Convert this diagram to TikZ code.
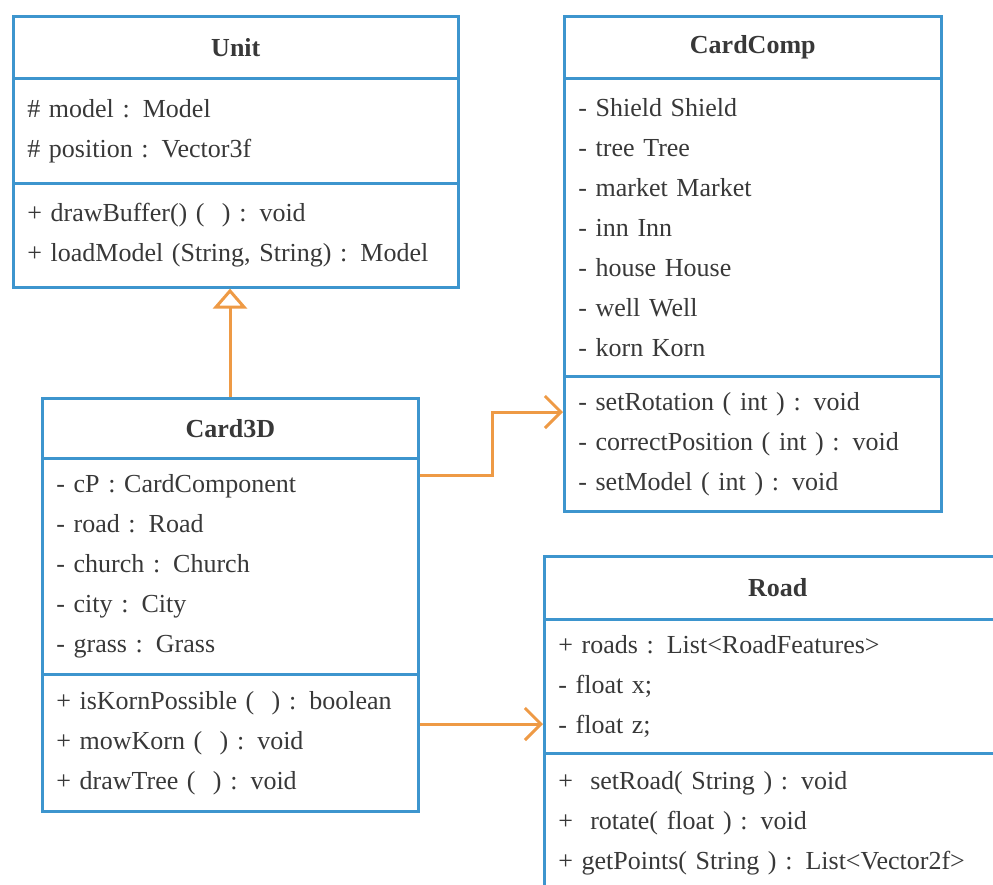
\documentclass[tikz,border=0pt]{standalone}
\usepackage{fontspec}
\setmainfont{Liberation Serif}
\usetikzlibrary{arrows.meta}

\definecolor{umlblue}{HTML}{3D95CE}
\definecolor{umlorange}{HTML}{EE9A45}
\definecolor{umltext}{HTML}{383838}

\tikzset{
  part/.style={draw=umlblue, line width=2.6pt, anchor=north west, inner xsep=14pt,
    inner ysep=0pt, align=left, text=umltext,
    font=\fontsize{26}{40}\selectfont},
  title/.style={part, align=center, font=\fontsize{26}{40}\selectfont\bfseries},
  inherit/.style={draw=umlorange, line width=3pt,
    -{Triangle[open, width=34pt, length=20pt, line width=3pt]}},
  assoc/.style={draw=umlorange, line width=3pt,
    -{Straight Barb[width=32pt, length=16pt, line width=3pt]}}
}

\begin{document}
\begin{tikzpicture}[x=1pt, y=-1pt]
  \useasboundingbox (0,0) rectangle (993,884);

  % Unit
  \node[title, text width=417pt, minimum height=62pt] (unitT) at (12,15) {Unit};
  \node[part, text width=417pt, minimum height=105pt] (unitA) at (12,77)
    {\# model : Model\\ \# position : Vector3f};
  \node[part, text width=417pt, minimum height=104pt] (unitO) at (12,182)
    {+ drawBuffer() (\ \ ) : void\\ + loadModel (String, String) : Model};

  % CardComp
  \node[title, text width=349pt, minimum height=62pt] (ccT) at (563,15) {CardComp};
  \node[part, text width=349pt, minimum height=298pt] (ccA) at (563,77)
    {- Shield Shield\\ - tree Tree\\ - market Market\\ - inn Inn\\ - house House\\ - well Well\\ - korn Korn};
  \node[part, text width=349pt, minimum height=135pt] (ccO) at (563,375)
    {- setRotation ( int ) : void\\ - correctPosition ( int ) : void\\ - setModel ( int ) : void};

  % Card3D
  \node[title, text width=348pt, minimum height=60pt] (c3dT) at (41,397) {Card3D};
  \node[part, text width=348pt, minimum height=216pt] (c3dA) at (41,457)
    {- cP : CardComponent\\ - road : Road\\ - church : Church\\ - city : City\\ - grass : Grass};
  \node[part, text width=348pt, minimum height=137pt] (c3dO) at (41,673)
    {\mbox{+ isKornPossible (\ \ ) : boolean}\\ + mowKorn (\ \ ) : void\\ + drawTree (\ \ ) : void};

  % Road
  \node[title, text width=439pt, minimum height=63pt] (roadT) at (543,555) {Road};
  \node[part, text width=439pt, minimum height=134pt] (roadA) at (543,618)
    {+ roads : List<RoadFeatures>\\ - float x;\\ - float z;};
  \node[part, text width=439pt, minimum height=140pt] (roadO) at (543,752)
    {+\ \ setRoad( String ) : void\\ +\ \ rotate( float ) : void\\ + getPoints( String ) : List<Vector2f>};

  % connectors
  \draw[inherit] (c3dT.north -| 230,0) -- (unitO.south -| 230,0);
  \coordinate (ccIn) at ([yshift=-37pt]ccO.north west);
  \draw[assoc] ([yshift=-18pt]c3dA.north east) -- ++(73,0) |- (ccIn);
  \coordinate (roadIn) at ([yshift=-106pt]roadA.north west);
  \draw[assoc] (c3dO.east |- roadIn) -- (roadIn);
\end{tikzpicture}
\end{document}
